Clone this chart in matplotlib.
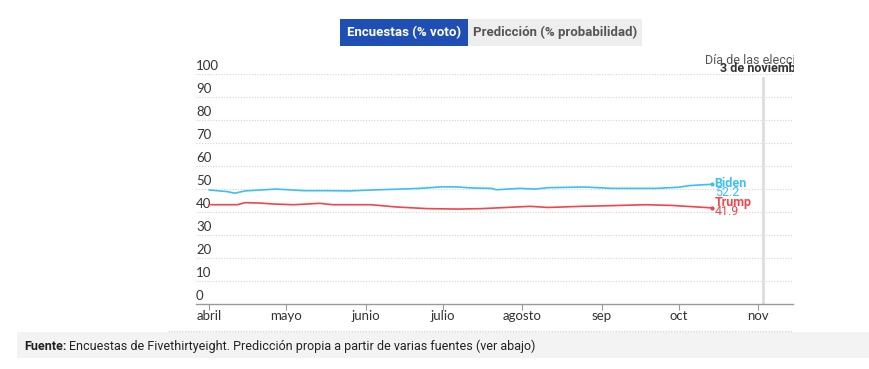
import numpy as np
import matplotlib
matplotlib.use("Agg")
import matplotlib.pyplot as plt
from matplotlib.patches import Rectangle
from matplotlib.transforms import Bbox, TransformedBbox, blended_transform_factory
import pandas as pd

# Data.

bidenDates = ["2020-04-01", "2020-04-08", "2020-04-11", "2020-04-15", "2020-04-27", "2020-05-08",
              "2020-05-17", "2020-05-26", "2020-06-03", "2020-06-15", "2020-06-22", "2020-07-01",
              "2020-07-07", "2020-07-12", "2020-07-20", "2020-07-22", "2020-07-31", "2020-08-06",
              "2020-08-11", "2020-08-25", "2020-09-05", "2020-09-22", "2020-10-01", "2020-10-05",
              "2020-10-14"]
bidenValues = [49.7, 49.0, 48.3, 49.3, 50.1, 49.4, 49.4, 49.3, 49.7, 50.1, 50.4, 51.1, 51.0, 50.6,
               50.4, 49.8, 50.4, 50.1, 50.7, 51.0, 50.4, 50.4, 50.9, 51.6, 52.2]

trumpDates = ["2020-04-01", "2020-04-12", "2020-04-15", "2020-04-21", "2020-04-26", "2020-05-04",
              "2020-05-14", "2020-05-19", "2020-06-03", "2020-06-13", "2020-06-25", "2020-07-07",
              "2020-07-16", "2020-07-24", "2020-08-04", "2020-08-11", "2020-08-24", "2020-09-05",
              "2020-09-18", "2020-09-28", "2020-10-07", "2020-10-14"]
trumpValues = [43.3, 43.3, 44.2, 44.0, 43.6, 43.3, 43.9, 43.3, 43.3, 42.3, 41.6, 41.4, 41.6, 42.0,
               42.6, 42.1, 42.6, 42.9, 43.3, 43.0, 42.4, 41.9]

monthTicks = ["2020-04-01", "2020-05-01", "2020-06-01", "2020-07-01", "2020-08-01", "2020-09-01",
              "2020-10-01", "2020-11-01"]
monthLabels = ["abril", "mayo", "junio", "julio", "agosto", "sep", "oct", "nov"]
yTicks = [0, 10, 20, 30, 40, 50, 60, 70, 80, 90, 100]
electionDay = "2020-11-03"

blue = "#3dbff2"
red = "#f2454c"
narrow = ["Roboto", "DejaVu Sans"]
tickFont = ["Lato", "DejaVu Sans"]

bd = pd.to_datetime(bidenDates)
td = pd.to_datetime(trumpDates)
ed = pd.to_datetime(electionDay)

# Figure.

fig = plt.figure(figsize=(8.7, 3.69), dpi=100)
W, H = 870, 369
ax = fig.add_axes([196 / W, 1 - 304.3 / H, (793 - 196) / W, (304.3 - 74.3) / H])

ax.set_ylim(0, 100)
ax.set_xlim(pd.Timestamp("2020-03-26 20:00"), pd.Timestamp("2020-11-14 12:00"))

for s in ["left", "right", "top"]:
    ax.spines[s].set_visible(False)
ax.spines["bottom"].set_color("#999999")
ax.spines["bottom"].set_linewidth(1)

# Grid lines (dotted) and y labels sitting above them.
for v in yTicks[1:]:
    ax.axhline(v, color="#d4d4d4", linewidth=0.8, linestyle=(0, (1, 1.5)), zorder=1)
ax.set_yticks([])
for v in yTicks:
    ax.text(0, v + 0.8, str(v), transform=ax.get_yaxis_transform(), ha="left", va="bottom",
            fontsize=9.5, color="#333333", family=tickFont)

# Month ticks.
ax.set_xticks(pd.to_datetime(monthTicks))
ax.set_xticklabels(monthLabels, fontsize=9.5, color="#333333", family=tickFont)
ax.tick_params(axis="x", length=4, color="#999999", pad=0)

# Election day line.
ax.axvline(ed, ymax=0.985, color="#dddddd", linewidth=2, zorder=1)

# Lines.
ax.plot(bd, bidenValues, color=blue, linewidth=1.2, zorder=3)
ax.plot(td, trumpValues, color=red, linewidth=1.2, zorder=3)
ax.scatter([bd[-1]], [bidenValues[-1]], s=4, color=blue, zorder=4)
ax.scatter([td[-1]], [trumpValues[-1]], s=4, color=red, zorder=4)

# End labels.
ax.annotate("Biden", (bd[-1], bidenValues[-1]), xytext=(1.8, 0.8), textcoords="offset points",
            ha="left", va="center", fontsize=9, fontweight="bold", color=blue, family=narrow)
ax.annotate(f"{bidenValues[-1]:.1f}", (bd[-1], bidenValues[-1]), xytext=(1.8, -5.6),
            textcoords="offset points", ha="left", va="center", fontsize=9, color=blue, family=narrow)
ax.annotate("Trump", (td[-1], trumpValues[-1]), xytext=(1.8, 4.2), textcoords="offset points",
            ha="left", va="center", fontsize=9, fontweight="bold", color=red, family=narrow)
ax.annotate(f"{trumpValues[-1]:.1f}", (td[-1], trumpValues[-1]), xytext=(1.8, -2.3),
            textcoords="offset points", ha="left", va="center", fontsize=9, color=red, family=narrow)

# Election day annotation, clipped at the right edge of the chart.
clip = TransformedBbox(Bbox([[0, 0], [794 / W, 1]]), fig.transFigure)
tr = blended_transform_factory(ax.transData, fig.transFigure)
t1 = ax.text(ed, 1 - 60 / H, "Día de las elecciones", transform=tr, ha="center", va="center",
             fontsize=9, color="#555555", family=narrow)
t2 = ax.text(ed, 1 - 69 / H, "3 de noviembre", transform=tr, ha="center", va="center",
             fontsize=9, fontweight="bold", color="#333333", family=narrow)
for t in (t1, t2):
    t.set_clip_on(True)
    t.set_clip_box(clip)

# Buttons at the top.
fig.patches.append(Rectangle((340 / W, 1 - 46 / H), 128 / W, 27 / H, transform=fig.transFigure,
                             facecolor="#1f4fb4", edgecolor="none", zorder=0))
fig.patches.append(Rectangle((468 / W, 1 - 46 / H), 174 / W, 27 / H, transform=fig.transFigure,
                             facecolor="#eeeeee", edgecolor="none", zorder=0))
fig.text(404 / W, 1 - 32.5 / H, "Encuestas (% voto)", ha="center", va="center", fontsize=9.5,
         fontweight="bold", color="white", family=narrow)
fig.text(555 / W, 1 - 32.5 / H, "Predicción (% probabilidad)", ha="center", va="center",
         fontsize=9.5, fontweight="bold", color="#555555", family=narrow)

# Footer.
fig.lines.append(plt.Line2D([168 / W, 793 / W], [1 - 331 / H, 1 - 331 / H], transform=fig.transFigure,
                            color="#cccccc", linewidth=0.8, linestyle=(0, (1, 1.5))))
fig.patches.append(Rectangle((17 / W, 1 - 358 / H), 853 / W, 26 / H, transform=fig.transFigure,
                             facecolor="#f3f3f3", edgecolor="none", zorder=0))
f1 = fig.text(24 / W, 1 - 346 / H, "Fuente:", ha="left", va="center", fontsize=9,
              fontweight="bold", color="#222222", family=narrow)
fig.canvas.draw()
bb = f1.get_window_extent()
fig.text(bb.x1 / W + 3 / W, 1 - 346 / H,
         "Encuestas de Fivethirtyeight. Predicción propia a partir de varias fuentes (ver abajo)",
         ha="left", va="center", fontsize=9, color="#222222", family=narrow)

plt.savefig("out.png", dpi=100)
plt.close()
